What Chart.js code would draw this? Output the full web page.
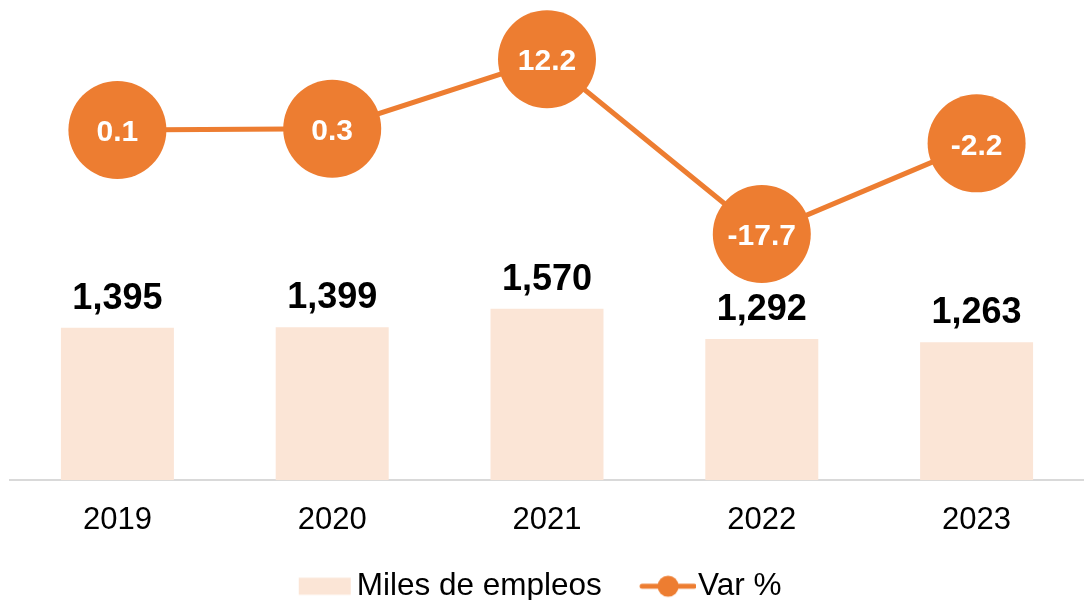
<!DOCTYPE html>
<html>
<head>
<meta charset="utf-8">
<script src="https://cdn.jsdelivr.net/npm/chart.js@4.4.1/dist/chart.umd.min.js"></script>
<style>
  html, body { margin: 0; padding: 0; background: #fff; }
  #wrap { width: 1084px; height: 600px; position: relative; }
</style>
</head>
<body>
<div id="wrap"><canvas id="c"></canvas></div>
<script>
const years = ['2019', '2020', '2021', '2022', '2023'];
const empleos = [1395, 1399, 1570, 1292, 1263];
const varPct = [0.1, 0.3, 12.2, -17.7, -2.2];
const seriesNames = ['Miles de empleos', 'Var %'];

const ORANGE = '#ED7D31';
const PEACH = '#FBE5D6';
const FONT = '"Liberation Sans", Arial, Helvetica, sans-serif';

function legendImage(kind) {
  const cv = document.createElement('canvas');
  cv.width = 98; cv.height = 24;
  const g = cv.getContext('2d');
  if (kind === 'bar') {
    g.fillStyle = PEACH;
    g.fillRect(98 - 4 - 52, 12 - 8.5, 52, 17);
  } else {
    g.strokeStyle = ORANGE;
    g.lineWidth = 5;
    g.lineCap = 'round';
    g.beginPath(); g.moveTo(98 - 54, 12); g.lineTo(96, 12); g.stroke();
    g.fillStyle = ORANGE;
    g.beginPath(); g.arc(98 - 28, 12, 10.5, 0, Math.PI * 2); g.fill();
  }
  return cv;
}

const labelPlugin = {
  id: 'valueLabels',
  afterLayout(chart) {
    const lg = chart.legend;
    if (lg) {
      lg.left -= 21; lg.right -= 21;
      lg.top -= 1; lg.bottom -= 1;
    }
  },
  afterDatasetDraw(chart, args) {
    const ctx = chart.ctx;
    const ds = chart.data.datasets[args.index];
    const meta = args.meta;
    ctx.save();
    ctx.textAlign = 'center';
    if (ds.type === 'bar') {
      ctx.font = 'bold 36px ' + FONT;
      ctx.fillStyle = '#000';
      ctx.textBaseline = 'alphabetic';
      meta.data.forEach((el, i) => {
        ctx.fillText(ds.data[i].toLocaleString('en-US'), el.x, el.y - 19);
      });
    } else {
      ctx.font = 'bold 30px ' + FONT;
      ctx.fillStyle = '#fff';
      ctx.textBaseline = 'middle';
      meta.data.forEach((el, i) => {
        ctx.fillText(ds.data[i].toFixed(1), el.x, el.y + 3);
      });
    }
    ctx.restore();
  }
};

new Chart(document.getElementById('c'), {
  data: {
    labels: years,
    datasets: [
      {
        type: 'bar',
        label: seriesNames[0],
        data: empleos,
        backgroundColor: PEACH,
        borderWidth: 0,
        barPercentage: 0.526,
        categoryPercentage: 1,
        yAxisID: 'yBar',
        order: 1
      },
      {
        type: 'line',
        label: seriesNames[1],
        data: varPct,
        borderColor: ORANGE,
        borderWidth: 5,
        backgroundColor: ORANGE,
        pointBackgroundColor: ORANGE,
        pointBorderWidth: 0,
        pointRadius: 49,
        pointHoverRadius: 49,
        tension: 0,
        clip: false,
        yAxisID: 'yLine',
        order: 0
      }
    ]
  },
  options: {
    responsive: true,
    maintainAspectRatio: false,
    animation: false,
    events: [],
    layout: { autoPadding: false, padding: { top: 10, left: 10, right: 0, bottom: -13 } },
    scales: {
      x: {
        grid: { display: false, drawTicks: false },
        border: { display: true, color: '#D9D9D9', width: 2 },
        ticks: { color: '#000', font: { family: FONT, size: 31 }, padding: 22 }
      },
      yBar: { display: false, min: 0, max: 4301 },
      yLine: { display: false, min: -59.8, max: 20.6 }
    },
    plugins: {
      tooltip: { enabled: false },
      legend: {
        display: true,
        position: 'bottom',
        labels: {
          usePointStyle: true,
          pointStyleWidth: 70.5,
          padding: 10,
          color: '#000',
          font: { family: FONT, size: 31.5 },
          generateLabels: () => [
            { text: seriesNames[0], pointStyle: legendImage('bar'), fillStyle: PEACH, strokeStyle: PEACH, lineWidth: 0, hidden: false, datasetIndex: 0, fontColor: '#000' },
            { text: seriesNames[1], pointStyle: legendImage('line'), fillStyle: ORANGE, strokeStyle: ORANGE, lineWidth: 0, hidden: false, datasetIndex: 1, fontColor: '#000' }
          ]
        }
      }
    }
  },
  plugins: [labelPlugin]
});
</script>
</body>
</html>
